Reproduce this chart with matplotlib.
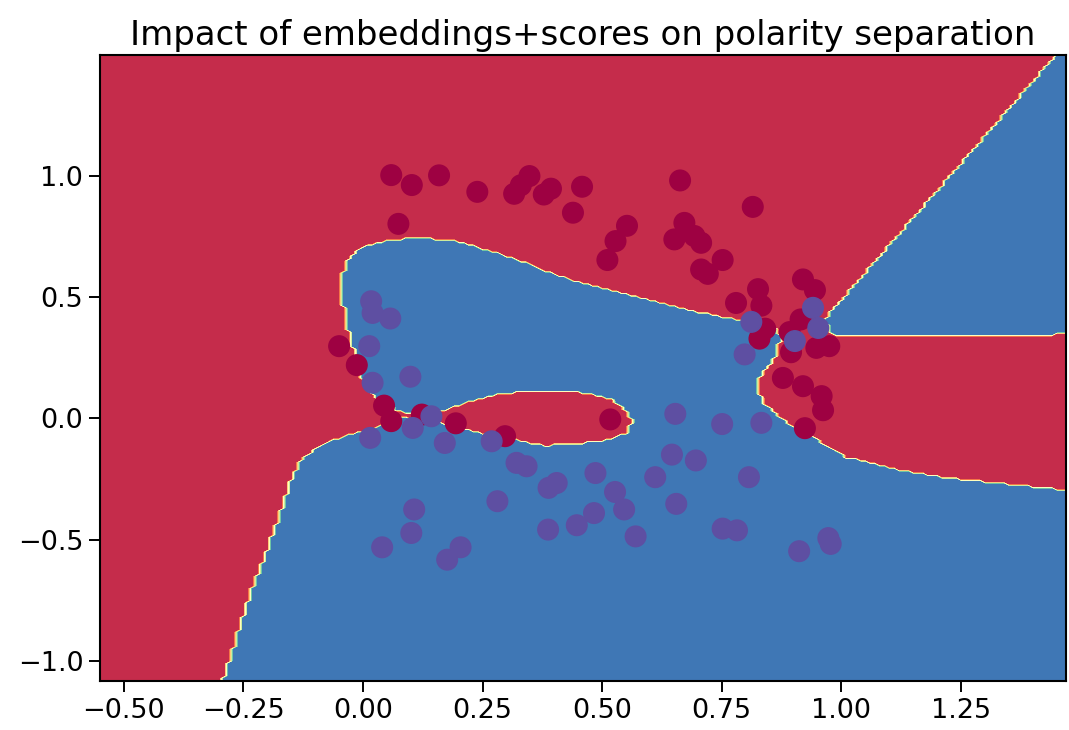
import numpy as np
import matplotlib
matplotlib.use("Agg")
import matplotlib.pyplot as plt
from matplotlib.path import Path

# ---- scatter data (class 0 = negative polarity, class 1 = positive polarity)
neg_x = [0.059, 0.102, 0.159, 0.239, 0.316, 0.330, 0.348, 0.378, 0.393, 0.458,
         0.439, 0.074, 0.511, 0.528, 0.552, 0.663, 0.672, 0.651, 0.693, 0.707,
         0.752, 0.707, 0.721, 0.815, 0.920, 0.945, 0.826, 0.780, 0.833, 0.915,
         0.841, 0.829, 0.892, 0.895, 0.948, 0.975, 0.878, 0.920, 0.959, 0.962,
         0.924, 0.517, 0.297, 0.194, 0.123, 0.059, 0.044, -0.013, -0.050]
neg_y = [1.002, 0.961, 1.001, 0.933, 0.925, 0.960, 0.998, 0.922, 0.946, 0.954,
         0.847, 0.801, 0.652, 0.730, 0.793, 0.980, 0.805, 0.737, 0.751, 0.723,
         0.652, 0.613, 0.595, 0.871, 0.572, 0.528, 0.532, 0.475, 0.464, 0.407,
         0.369, 0.328, 0.355, 0.272, 0.290, 0.297, 0.166, 0.132, 0.091, 0.033,
         -0.041, -0.005, -0.074, -0.021, 0.015, -0.012, 0.052, 0.219, 0.297]

pos_x = [0.017, 0.020, 0.057, 0.013, 0.020, 0.099, 0.015, 0.104, 0.143, 0.171,
         0.269, 0.321, 0.342, 0.405, 0.388, 0.281, 0.486, 0.483, 0.447, 0.387,
         0.107, 0.101, 0.040, 0.204, 0.176, 0.653, 0.751, 0.833, 0.646, 0.696,
         0.611, 0.807, 0.527, 0.546, 0.655, 0.570, 0.752, 0.782, 0.912, 0.973,
         0.978, 0.798, 0.812, 0.941, 0.952, 0.903]
pos_y = [0.482, 0.434, 0.411, 0.297, 0.146, 0.171, -0.081, -0.040, 0.008, -0.102,
         -0.095, -0.184, -0.198, -0.267, -0.287, -0.342, -0.226, -0.391, -0.441, -0.459,
         -0.376, -0.473, -0.532, -0.532, -0.583, 0.018, -0.024, -0.019, -0.150, -0.174,
         -0.243, -0.243, -0.304, -0.376, -0.353, -0.487, -0.455, -0.462, -0.548, -0.494,
         -0.518, 0.263, 0.397, 0.455, 0.372, 0.318]

# ---- decision regions of the classifier (traced boundary of the positive class)
region_main_x = [-0.312, -0.295, -0.270, -0.249, -0.225, -0.200, -0.176, -0.151, -0.130, -0.095,
                 -0.046, 0.003, 0.038, 0.080, 0.143, 0.206, 0.254, 0.326, 0.380, 0.452,
                 0.521, 0.553, 0.563, 0.548, 0.521, 0.479, 0.437, 0.347, 0.275, 0.221,
                 0.170, 0.100, 0.070, 0.023, -0.008, -0.019, -0.032, -0.042, -0.046, -0.032,
                 -0.004, 0.053, 0.116, 0.185, 0.242, 0.311, 0.380, 0.452, 0.548, 0.620,
                 0.689, 0.758, 0.794, 0.857, 0.868, 0.872, 0.866, 0.859, 0.842, 0.826,
                 0.826, 0.836, 0.863, 0.899, 0.941, 0.977, 1.011, 1.061, 1.130, 1.235,
                 1.340, 1.479, 1.600, 1.600]
region_main_y = [-1.200, -1.097, -0.947, -0.810, -0.672, -0.548, -0.411, -0.260, -0.177, -0.122,
                 -0.081, -0.054, -0.033, 0.000, -0.016, -0.041, -0.066, -0.095, -0.115, -0.107,
                 -0.087, -0.062, -0.012, 0.037, 0.078, 0.099, 0.111, 0.115, 0.099, 0.070,
                 0.037, 0.021, 0.037, 0.091, 0.181, 0.289, 0.371, 0.482, 0.565, 0.647,
                 0.701, 0.730, 0.742, 0.730, 0.701, 0.660, 0.606, 0.557, 0.511, 0.474,
                 0.441, 0.412, 0.400, 0.371, 0.363, 0.330, 0.276, 0.247, 0.206, 0.161,
                 0.111, 0.062, 0.016, -0.037, -0.082, -0.124, -0.165, -0.186, -0.219, -0.252,
                 -0.272, -0.301, -0.320, -1.200]
region_wedge_x = [0.966, 1.497, 1.600, 1.600, 0.983]
region_wedge_y = [0.408, 1.600, 1.600, 0.350, 0.338]

title_text = "Impact of embeddings+scores on polarity separation"

X = np.array(neg_x + pos_x)
Y = np.array(neg_y + pos_y)
labels = np.array([0] * len(neg_x) + [1] * len(pos_x))

h = 0.01
xx, yy = np.meshgrid(np.arange(X.min() - 0.5, X.max() + 0.5, h),
                     np.arange(Y.min() - 0.5, Y.max() + 0.5, h))
grid = np.c_[xx.ravel(), yy.ravel()]
Z = np.zeros(len(grid))
for bx, by in [(region_main_x, region_main_y), (region_wedge_x, region_wedge_y)]:
    Z[Path(np.c_[bx, by]).contains_points(grid)] = 1
Z = Z.reshape(xx.shape)

fig = plt.figure(figsize=(10.69, 7.30), dpi=100)
ax = fig.add_axes([100 / 1069, (730 - 681) / 730, 966 / 1069, 626 / 730])
ax.contourf(xx, yy, Z, cmap=plt.cm.Spectral)
ax.scatter(X, Y, c=labels, cmap=plt.cm.Spectral, s=220)
ax.set_title(title_text, fontsize=24.5, pad=7)
ax.set_xticks([-0.5, -0.25, 0.0, 0.25, 0.5, 0.75, 1.0, 1.25])
ax.set_yticks([-1.0, -0.5, 0.0, 0.5, 1.0])
ax.tick_params(labelsize=19.5, length=8, width=1.4, pad=4)
for s in ax.spines.values():
    s.set_linewidth(1.5)

fig.savefig("out.png", dpi=100)
